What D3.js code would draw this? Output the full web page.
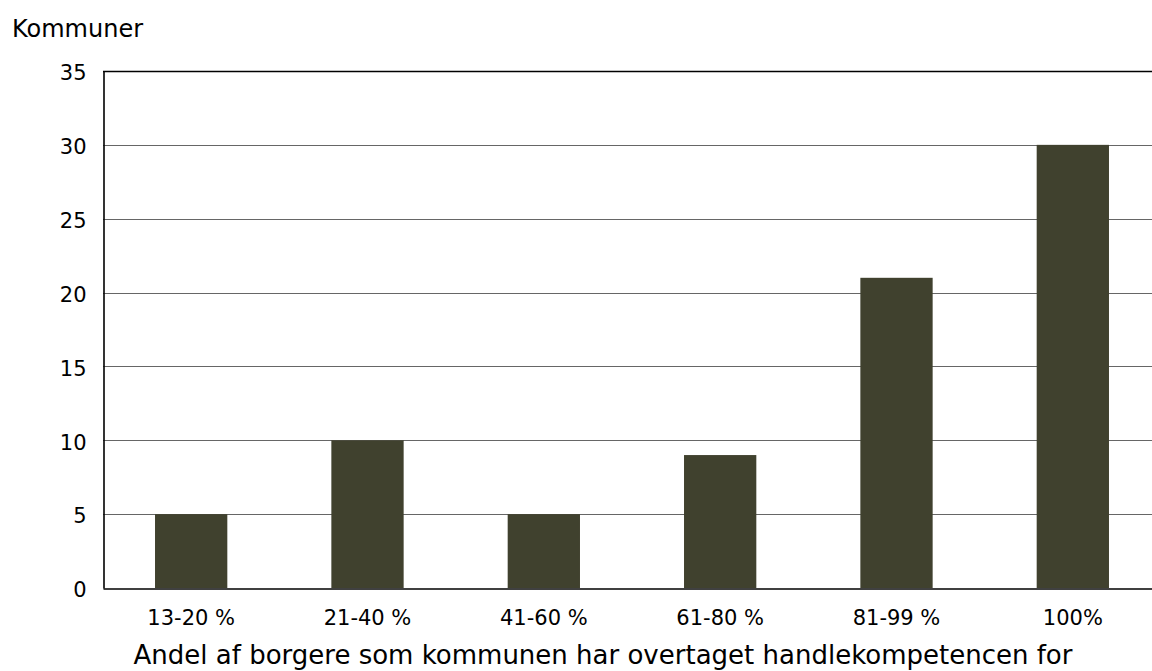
<!DOCTYPE html>
<html>
<head>
<meta charset="utf-8">
<script src="https://cdn.jsdelivr.net/npm/d3@7"></script>
<style>
  body { margin: 0; background: #fff; }
  svg text { font-family: Verdana, "DejaVu Sans", sans-serif; fill: #000; }
</style>
</head>
<body>
<div id="chart"></div>
<script>
const categories = ["13-20 %", "21-40 %", "41-60 %", "61-80 %", "81-99 %", "100%"];
const values = [5, 10, 5, 9, 21, 30];
const yTicks = [0, 5, 10, 15, 20, 25, 30, 35];

const W = 1152, H = 671;
const margin = { top: 71, left: 103, bottom: 83 };
const plotRight = 1161;   // plot runs a bit past the window edge
const innerH = H - margin.top - margin.bottom;

const svg = d3.select("#chart")
  .append("svg")
  .attr("width", W)
  .attr("height", H);

const x = d3.scaleBand()
  .domain(categories)
  .range([margin.left, plotRight])
  .paddingInner(0.59)
  .paddingOuter(0.295);

const y = d3.scaleLinear()
  .domain([0, 35])
  .range([margin.top + innerH, margin.top]);

// gridlines
svg.append("g")
  .selectAll("line")
  .data(yTicks.filter(d => d > 0))
  .enter()
  .append("line")
  .attr("x1", margin.left)
  .attr("x2", plotRight)
  .attr("y1", d => Math.round(y(d)) + 0.5)
  .attr("y2", d => Math.round(y(d)) + 0.5)
  .attr("stroke", d => d === 35 ? "#000" : "#666")
  .attr("stroke-width", d => d === 35 ? 1.6 : 1);

// bars
svg.append("g")
  .selectAll("rect")
  .data(values)
  .enter()
  .append("rect")
  .attr("x", (d, i) => x(categories[i]))
  .attr("width", x.bandwidth())
  .attr("y", d => y(d))
  .attr("height", d => y(0) - y(d))
  .attr("fill", "#40412e");

// y axis
const yAxis = svg.append("g")
  .attr("transform", `translate(${margin.left + 0.5},0)`)
  .call(d3.axisLeft(y).tickValues(yTicks).tickSize(0).tickPadding(17));
yAxis.select(".domain").attr("stroke", "#000").attr("stroke-width", 1.6);
yAxis.selectAll("text")
  .attr("font-size", "21px")
  .attr("dy", "0.42em")
  .attr("fill", "#000");

// x axis
const xAxis = svg.append("g")
  .attr("transform", `translate(0,${Math.round(y(0)) + 0.5})`)
  .call(d3.axisBottom(x).tickSize(0).tickPadding(22));
xAxis.select(".domain").attr("stroke", "#000").attr("stroke-width", 1.6);
xAxis.selectAll("text").attr("font-size", "21px").attr("fill", "#000");

// titles
svg.append("text")
  .attr("x", 12)
  .attr("y", 37)
  .attr("font-size", "24px")
  .text("Kommuner");

svg.append("text")
  .attr("x", 603)
  .attr("y", 664)
  .attr("text-anchor", "middle")
  .attr("font-size", "26px")
  .text("Andel af borgere som kommunen har overtaget handlekompetencen for");
</script>
</body>
</html>
